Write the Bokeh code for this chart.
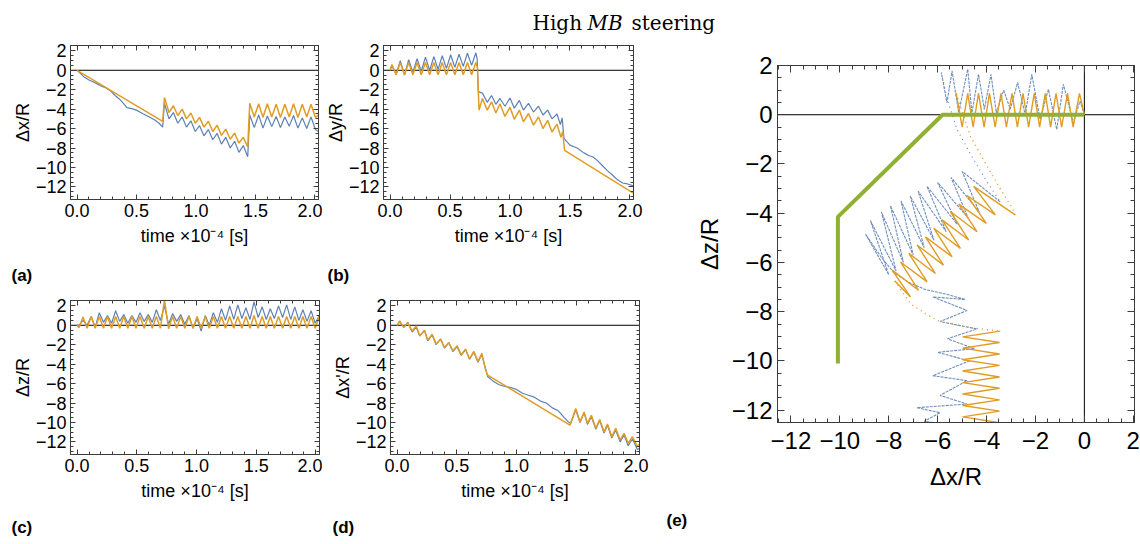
from bokeh.plotting import figure
from bokeh.layouts import column, row
from bokeh.models import (Range1d, LinearAxis, Span, SingleIntervalTicker,
                          CustomJSTickFormatter)
from bokeh.embed import file_html
from bokeh.resources import INLINE
from bokeh.core.properties import value

# ------------------------------------------------------------------ data
# Panel (a): dx/R versus time (x1e-4 s)
a_t_orange = [0.0, 0.72, 0.735, 0.773, 0.81, 0.847, 0.884, 0.92, 0.957, 0.994,
              1.03, 1.067, 1.104, 1.141, 1.178, 1.214, 1.25, 1.288, 1.325, 1.361,
              1.398, 1.435, 1.452, 1.49, 1.527, 1.563, 1.60, 1.637, 1.674, 1.71,
              1.747, 1.784, 1.82, 1.857, 1.894, 1.931, 1.967, 2.004, 2.03]
a_dx_orange = [0.0, -5.25, -2.8, -4.35, -3.65, -4.65, -4.0, -5.0, -4.4, -5.45,
               -4.85, -5.85, -5.25, -6.3, -5.65, -6.7, -6.05, -7.1, -6.45, -7.5,
               -6.9, -7.9, -3.4, -4.8, -3.45, -4.85, -3.45, -4.8, -3.5, -4.85,
               -3.5, -4.8, -3.45, -4.85, -3.5, -4.8, -3.5, -4.85, -4.6]
a_t_blue = [0.0, 0.03, 0.06, 0.1, 0.13, 0.17, 0.2, 0.24, 0.28, 0.32,
            0.36, 0.39, 0.42, 0.46, 0.5, 0.55, 0.6, 0.65, 0.69, 0.72,
            0.735, 0.773, 0.81, 0.847, 0.884, 0.92, 0.957, 0.994, 1.03, 1.067,
            1.104, 1.141, 1.178, 1.214, 1.25, 1.288, 1.325, 1.361, 1.398, 1.435,
            1.452, 1.49, 1.527, 1.563, 1.60, 1.637, 1.674, 1.71, 1.747, 1.784,
            1.82, 1.857, 1.894, 1.931, 1.967, 2.004, 2.03]
a_dx_blue = [0.0, -0.35, -0.7, -1.0, -1.15, -1.4, -1.6, -1.8, -2.1, -2.6,
             -3.0, -3.4, -3.85, -3.95, -4.1, -4.45, -4.75, -5.1, -5.45, -5.85,
             -3.4, -5.0, -4.35, -5.45, -4.8, -5.85, -5.2, -6.3, -5.7, -6.75,
             -6.1, -7.15, -6.5, -7.6, -6.9, -8.0, -7.3, -8.45, -7.75, -8.9,
             -4.6, -5.9, -4.6, -5.95, -4.7, -5.8, -4.75, -5.9, -4.8, -5.75,
             -4.65, -5.95, -4.9, -6.0, -4.8, -6.1, -6.3]

# Panel (b): dy/R versus time
b_t_orange = [0.0, 0.015, 0.05, 0.085, 0.12, 0.155, 0.19, 0.225, 0.26, 0.295,
              0.33, 0.365, 0.40, 0.435, 0.47, 0.505, 0.54, 0.575, 0.61, 0.645,
              0.68, 0.715, 0.728, 0.742, 0.77, 0.81, 0.846, 0.882, 0.916, 0.958,
              1.0, 1.036, 1.078, 1.112, 1.154, 1.196, 1.238, 1.275, 1.314, 1.35,
              1.392, 1.425, 1.44, 1.455, 2.035]
b_dy_orange = [0.0, 0.6, -0.45, 0.8, -0.45, 0.8, -0.45, 0.8, -0.45, 0.8,
               -0.45, 0.8, -0.45, 0.8, -0.45, 0.8, -0.45, 0.8, -0.45, 0.8,
               -0.45, 0.8, 0.3, -4.1, -2.9, -4.1, -3.25, -4.4, -3.45, -4.75,
               -3.8, -5.05, -4.1, -5.3, -4.45, -5.65, -4.8, -6.0, -5.15, -6.35,
               -5.55, -6.9, -6.3, -8.25, -12.7]
b_t_blue = [0.0, 0.015, 0.05, 0.085, 0.12, 0.155, 0.19, 0.225, 0.26, 0.295,
            0.33, 0.365, 0.40, 0.435, 0.47, 0.505, 0.54, 0.575, 0.61, 0.645,
            0.68, 0.715, 0.726, 0.736, 0.77, 0.81, 0.846, 0.882, 0.916, 0.958,
            1.0, 1.036, 1.078, 1.112, 1.154, 1.196, 1.238, 1.275, 1.314, 1.35,
            1.392, 1.42, 1.435, 1.45, 1.5, 1.56, 1.616, 1.66, 1.69, 1.73,
            1.77, 1.81, 1.856, 1.9, 1.94, 1.98, 2.03]
b_dy_blue = [0.0, 0.5, -0.4, 1.0, -0.5, 1.1, -0.2, 1.2, -0.1, 1.35,
             0.0, 1.4, 0.1, 1.5, 0.2, 1.6, 0.3, 1.65, 0.4, 1.75,
             0.5, 1.8, 1.2, -2.2, -2.35, -3.3, -2.6, -3.5, -2.9, -3.7,
             -2.85, -3.9, -3.1, -4.1, -3.4, -4.3, -3.7, -4.6, -4.1, -5.0,
             -4.5, -5.6, -4.9, -7.0, -7.7, -8.0, -8.5, -8.8, -8.9, -9.3,
             -9.8, -10.3, -10.8, -11.3, -11.6, -11.7, -11.9]

# Panel (c): dz/R versus time
c_t = [0.0, 0.016, 0.05, 0.084, 0.118, 0.152, 0.186, 0.221, 0.255, 0.289,
       0.323, 0.357, 0.391, 0.425, 0.459, 0.493, 0.527, 0.562, 0.596, 0.63,
       0.664, 0.698, 0.732, 0.766, 0.80, 0.834, 0.868, 0.902, 0.937, 0.971,
       1.005, 1.039, 1.073, 1.107, 1.141, 1.175, 1.209, 1.243, 1.278, 1.312,
       1.346, 1.38, 1.414, 1.448, 1.482, 1.516, 1.55, 1.584, 1.618, 1.652,
       1.687, 1.721, 1.755, 1.789, 1.823, 1.857, 1.891, 1.925, 1.96, 1.994,
       2.028]
c_dz_orange = [0.0, -0.25, 0.85, -0.3, 0.9, -0.3, 0.9, -0.3, 0.9, -0.3,
               0.9, -0.3, 0.9, -0.3, 0.9, -0.3, 0.9, -0.3, 0.9, -0.3,
               0.9, -0.3, 2.6, -0.35, 0.9, -0.3, 0.9, -0.3, 0.9, -0.3,
               0.9, -0.3, 0.9, -0.3, 0.9, -0.3, 0.9, -0.3, 0.9, -0.3,
               0.9, -0.3, 0.9, -0.3, 1.0, -0.3, 0.9, -0.3, 0.9, -0.3,
               0.9, -0.3, 0.9, -0.3, 0.9, -0.3, 0.9, -0.3, 0.9, -0.3,
               0.9]
c_dz_blue = [0.0, 0.0, 0.5, 0.0, 0.9, -0.2, 1.3, 0.3, 1.0, 0.2,
             1.5, 0.4, 1.1, 0.2, 1.0, 0.3, 1.3, 0.4, 1.1, 0.3,
             1.6, 0.5, 2.0, 0.1, 1.2, 0.4, 1.1, 0.1, 1.0, -0.3,
             0.7, -0.6, 1.0, 0.0, 1.3, 0.3, 1.7, 0.5, 2.0, 0.6,
             2.1, 0.7, 1.8, 0.6, 2.4, 0.8, 1.9, 0.6, 1.7, 0.7,
             2.0, 0.8, 2.1, 0.6, 1.9, 0.5, 1.6, 0.4, 1.5, 0.2,
             1.0]

# Panel (d): dx'/R versus time
d_t_orange = [0.0, 0.022, 0.056, 0.089, 0.126, 0.16, 0.19, 0.23, 0.257, 0.294,
              0.327, 0.364, 0.397, 0.433, 0.467, 0.503, 0.537, 0.573, 0.607, 0.643,
              0.677, 0.71, 0.735, 0.755, 1.448, 1.496, 1.532, 1.566, 1.594, 1.627,
              1.664, 1.697, 1.733, 1.762, 1.798, 1.831, 1.868, 1.901, 1.935, 1.971,
              2.013, 2.035]
d_dxp_orange = [0.0, 0.44, -0.24, 0.27, -0.58, -0.07, -1.09, -0.51, -1.53, -0.92,
                -1.94, -1.43, -2.28, -1.77, -2.62, -2.11, -3.03, -2.45, -3.47, -2.69,
                -3.71, -2.9, -4.3, -5.1, -10.28, -8.57, -9.94, -8.92, -10.1, -9.26,
                -10.6, -9.7, -10.96, -10.17, -11.47, -10.61, -11.8, -11.12, -12.14, -11.47,
                -12.49, -12.2]
d_t_blue = [0.0, 0.022, 0.056, 0.089, 0.126, 0.16, 0.19, 0.23, 0.257, 0.294,
            0.327, 0.364, 0.397, 0.433, 0.467, 0.503, 0.537, 0.573, 0.607, 0.643,
            0.677, 0.71, 0.735, 0.76, 0.8, 0.85, 0.9, 0.95, 1.0, 1.05,
            1.1, 1.15, 1.2, 1.25, 1.3, 1.35, 1.4, 1.43, 1.455, 1.496,
            1.532, 1.566, 1.594, 1.627, 1.664, 1.697, 1.733, 1.762, 1.798, 1.831,
            1.868, 1.901, 1.935, 1.971, 2.013, 2.035]
d_dxp_blue = [0.0, 0.35, -0.2, 0.3, -0.7, -0.2, -1.1, -0.55, -1.6, -1.0,
              -2.0, -1.4, -2.35, -1.8, -2.7, -2.2, -3.1, -2.5, -3.5, -2.75,
              -3.8, -3.0, -4.2, -5.3, -5.7, -6.1, -6.3, -6.4, -6.6, -7.0,
              -7.2, -7.4, -7.8, -8.0, -8.5, -8.8, -9.5, -9.9, -10.1, -8.7,
              -10.0, -9.0, -10.2, -9.4, -10.7, -9.8, -11.1, -10.3, -11.6, -10.8,
              -12.0, -11.3, -12.4, -11.7, -12.8, -12.6]

# Panel (e): trajectory dz/R versus dx/R
e_x_orange_1 = [0.0, -0.2, -0.46, -0.69, -0.93, -1.16, -1.38, -1.6, -1.83, -2.05,
                -2.28, -2.51, -2.74, -2.96, -3.19, -3.41, -3.65, -3.88, -4.1, -4.33,
                -4.55, -4.77, -5.0, -5.24]
e_z_orange_1 = [0.0, 0.87, -0.5, 0.87, -0.5, 0.87, -0.5, 0.87, -0.5, 0.87,
                -0.5, 0.87, -0.5, 0.87, -0.5, 0.87, -0.5, 0.87, -0.5, 0.87,
                -0.5, 0.87, -0.5, 0.87]
e_x_orange_jump1 = [-5.24, -4.67, -3.99, -3.44, -2.9, -2.83]
e_z_orange_jump1 = [0.87, -0.86, -2.07, -3.0, -3.88, -4.07]
e_x_orange_2 = [-2.83, -4.53, -3.64, -4.80, -4.01, -5.14, -4.39, -5.48, -4.73, -5.82,
                -5.07, -6.16, -5.41, -6.50, -5.76, -6.84, -6.09, -7.18, -6.43, -7.52,
                -6.78, -7.86, -7.11, -7.75]
e_z_orange_2 = [-4.07, -2.91, -4.07, -3.28, -4.41, -3.63, -4.75, -3.93, -5.09, -4.27,
                -5.43, -4.61, -5.77, -4.96, -6.11, -5.29, -6.45, -5.63, -6.79, -5.98,
                -7.13, -6.31, -7.40, -6.75]
e_x_orange_jump2 = [-7.75, -7.12, -6.5, -5.89, -4.8, -3.44]
e_z_orange_jump2 = [-6.75, -7.67, -8.08, -8.42, -8.63, -8.79]
e_x_orange_3 = [-3.44, -4.98, -3.47, -4.98, -3.47, -4.98, -3.47, -4.98, -3.47, -4.98,
                -3.47, -4.98, -3.47, -4.98, -3.47, -4.98, -3.47, -4.98, -3.47]
e_z_orange_3 = [-8.79, -9.02, -9.25, -9.48, -9.72, -9.95, -10.18, -10.41, -10.65, -10.88,
                -11.11, -11.34, -11.58, -11.81, -12.04, -12.27, -12.51, -12.74, -12.97]

e_x_blue_1 = [0.0, -0.18, -0.45, -0.86, -1.13, -1.47, -1.81, -2.15, -2.42, -2.73,
              -3.03, -3.3, -3.6, -3.82, -4.09, -4.33, -4.6, -4.77, -5.14, -5.41,
              -5.62, -5.85]
e_z_blue_1 = [0.0, 0.56, -0.33, 1.24, -0.6, 1.03, -0.19, 1.64, 0.01, 1.31,
              0.22, 1.0, 0.08, 1.64, 0.22, 1.64, 0.08, 1.85, 0.08, 1.78,
              0.49, 1.71]
e_x_blue_jump1 = [-5.85, -5.6, -5.21, -4.6, -4.0, -3.44]
e_z_blue_jump1 = [1.71, 0.6, -0.59, -1.7, -2.7, -3.54]
e_x_blue_2 = [-3.44, -5.0, -4.3, -5.45, -4.75, -6.0, -5.2, -6.44, -5.65, -6.8,
              -6.15, -7.12, -6.55, -7.5, -7.0, -7.93, -7.4, -8.3, -7.7, -8.75,
              -8.0, -8.95, -8.3, -7.8, -7.2, -6.5, -5.6, -4.9]
e_z_blue_2 = [-3.54, -2.3, -3.95, -2.55, -4.2, -2.75, -4.45, -2.9, -4.75, -3.1,
              -5.1, -3.3, -5.4, -3.5, -5.7, -3.7, -6.0, -3.95, -6.35, -4.3,
              -6.5, -4.85, -5.8, -6.4, -6.8, -7.1, -7.3, -7.5]
e_x_blue_3 = [-4.9, -6.2, -4.8, -5.9, -4.4, -5.6, -4.5, -6.0, -4.7, -6.2,
              -4.8, -5.9, -4.8, -6.85, -5.9, -6.55, -5.35, -6.2]
e_z_blue_3 = [-7.5, -7.4, -7.95, -8.4, -8.7, -9.1, -9.5, -9.65, -10.0, -10.6,
              -10.8, -11.4, -11.75, -11.9, -12.1, -12.45, -12.6, -12.9]

e_x_green = [0.0, -5.8, -10.08, -10.08]
e_z_green = [0.0, 0.0, -4.15, -10.1]

# texts
time_label = "time \u00d710\u207b\u2074 [s]"
title_parts = ["High", "MB", "steering"]
title_styles = ["normal", "italic", "normal"]
tags_ab = ["(a)", "(b)"]
tags_cde = ["(c)", "(d)", "(e)"]

# ------------------------------------------------------------------ style
BLUE = "#5E81B5"
ORANGE = "#E19C24"
GREEN = "#8FB032"
FRAME = "#3c3c3c"
FONT = "Liberation Sans"


def num_fmt(dec):
    return CustomJSTickFormatter(
        code="return (tick < -1e-9 ? '\\u2212' : '') + Math.abs(tick).toFixed(%d);" % dec)


def blank_fmt():
    return CustomJSTickFormatter(code="return '';")


def make_axis(ticker, formatter, label, font_px, show, tick_in, minor_in,
              lab_standoff, axlab_standoff):
    ax = LinearAxis(ticker=ticker, formatter=formatter)
    ax.axis_line_color = FRAME
    ax.axis_line_width = 1
    ax.major_tick_line_color = FRAME
    ax.minor_tick_line_color = FRAME
    ax.major_tick_in = tick_in
    ax.major_tick_out = 0
    ax.minor_tick_in = minor_in
    ax.minor_tick_out = 0
    ax.major_label_text_font = FONT
    ax.major_label_text_color = "black"
    if show:
        ax.major_label_text_font_size = "%dpx" % font_px
        ax.major_label_standoff = lab_standoff
    else:
        ax.major_label_text_font_size = "0px"
        ax.major_label_standoff = 0
    if label:
        ax.axis_label = label
        ax.axis_label_text_font = FONT
        ax.axis_label_text_font_size = "%dpx" % font_px
        ax.axis_label_text_font_style = "normal"
        ax.axis_label_text_color = "black"
        ax.axis_label_standoff = axlab_standoff
    return ax


def make_panel(geo, xr, yr, xstep, xminor, xdec, ystep, yminor, font_px,
               xlabel, ylabel, tick_in, minor_in, xs, xas, ys, yas):
    ox, oy, w, h, L, R, T, B = geo
    p = figure(width=w, height=h, x_range=Range1d(*xr), y_range=Range1d(*yr),
               x_axis_type=None, y_axis_type=None, output_backend="svg",
               toolbar_location=None, tools="",
               min_border_left=L - ox, min_border_right=ox + w - R,
               min_border_top=T - oy, min_border_bottom=oy + h - B)
    p.outline_line_color = FRAME
    p.background_fill_color = "white"
    p.border_fill_color = "white"
    xt = SingleIntervalTicker(interval=xstep, num_minor_ticks=xminor)
    yt = SingleIntervalTicker(interval=ystep, num_minor_ticks=yminor)
    p.add_layout(make_axis(xt, num_fmt(xdec), xlabel, font_px, True, tick_in, minor_in, xs, xas), "below")
    p.add_layout(make_axis(yt, num_fmt(0), ylabel, font_px, True, tick_in, minor_in, ys, yas), "left")
    p.add_layout(make_axis(xt, blank_fmt(), None, font_px, False, tick_in, minor_in, 0, 0), "above")
    p.add_layout(make_axis(yt, blank_fmt(), None, font_px, False, tick_in, minor_in, 0, 0), "right")
    return p


def strip(w, h):
    # a text-only strip whose data units are pixels measured from its top-left
    s = figure(width=w, height=h, x_range=Range1d(0, w), y_range=Range1d(h, 0),
               x_axis_type=None, y_axis_type=None, output_backend="svg",
               toolbar_location=None, tools="", min_border=0)
    s.outline_line_color = None
    s.background_fill_color = "white"
    s.border_fill_color = "white"
    return s


def tags(s, xs, ys, texts):
    s.text(x=xs, y=ys, text=texts, text_font=value(FONT), text_font_size="17px",
           text_font_style="bold", text_color="black",
           text_baseline="middle", text_align="left")


def zero_h(p):
    p.add_layout(Span(location=0, dimension="width", line_color="black",
                      line_width=1, level="underlay"))


TS_X = (-0.055, 2.03)
TS_Y = (-13.3, 2.55)

# geometry: page origin x, y, width, height, frame left, right, top, bottom
geo_a = (0, 36, 322, 226, 70, 318, 45, 199)
geo_b = (322, 36, 333, 226, 383, 633, 45, 199)
geo_c = (0, 288, 322, 220, 70, 319, 300, 454)
geo_d = (322, 288, 333, 220, 390, 639, 300, 454)
geo_e = (655, 36, 485, 472, 777, 1134, 65, 422)


def ts_panel(geo, ylabel):
    return make_panel(geo, TS_X, TS_Y, 0.5, 5, 1, 2, 4, 18, time_label, ylabel,
                      5, 3, 4, 6, 4, 0)


pa = ts_panel(geo_a, "\u0394x/R")
zero_h(pa)
pa.line(a_t_blue, a_dx_blue, line_color=BLUE, line_width=1.2)
pa.line(a_t_orange, a_dx_orange, line_color=ORANGE, line_width=1.5)

pb = ts_panel(geo_b, "\u0394y/R")
zero_h(pb)
pb.line(b_t_blue, b_dy_blue, line_color=BLUE, line_width=1.2)
pb.line(b_t_orange, b_dy_orange, line_color=ORANGE, line_width=1.5)

pc = ts_panel(geo_c, "\u0394z/R")
zero_h(pc)
pc.line(c_t, c_dz_blue, line_color=BLUE, line_width=1.2)
pc.line(c_t, c_dz_orange, line_color=ORANGE, line_width=1.5)

pd_ = ts_panel(geo_d, "\u0394x'/R")
zero_h(pd_)
pd_.line(d_t_blue, d_dxp_blue, line_color=BLUE, line_width=1.2)
pd_.line(d_t_orange, d_dxp_orange, line_color=ORANGE, line_width=1.5)

E_X = (-12.55, 2.05)
E_Y = (-12.5, 2.0)
pe = make_panel(geo_e, E_X, E_Y, 2, 4, 0, 2, 4, 24, "\u0394x/R", "\u0394z/R",
                7, 4, 9, 11, 5, 6)
zero_h(pe)
pe.add_layout(Span(location=0, dimension="height", line_color="black",
                   line_width=1, level="underlay"))
for xs_, zs_ in ((e_x_blue_1, e_z_blue_1), (e_x_blue_2, e_z_blue_2), (e_x_blue_3, e_z_blue_3)):
    pe.line(xs_, zs_, line_color=BLUE, line_width=1.1, line_alpha=0.9, line_dash="3 1")
pe.line(e_x_blue_jump1, e_z_blue_jump1, line_color=BLUE, line_width=1.1, line_dash="1 4")
for xs_, zs_ in ((e_x_orange_1, e_z_orange_1), (e_x_orange_2, e_z_orange_2), (e_x_orange_3, e_z_orange_3)):
    pe.line(xs_, zs_, line_color=ORANGE, line_width=1.4)
pe.line(e_x_orange_jump1, e_z_orange_jump1, line_color=ORANGE, line_width=1.4, line_dash="1 4")
pe.line(e_x_orange_jump2, e_z_orange_jump2, line_color=ORANGE, line_width=1.4, line_dash="1 4")
pe.line(e_x_green, e_z_green, line_color=GREEN, line_width=4)

# text strips: title, panel tags
pt = strip(1140, 36)
pt.text(x=[532, 587, 631], y=[22, 22, 22], text=title_parts,
        text_font=value("DejaVu Serif"), text_font_size="20px",
        text_font_style=title_styles, text_color="black",
        text_baseline="middle", text_align="left")

s_ab = strip(655, 26)
tags(s_ab, [11, 327], [13, 13], tags_ab)
s_bottom = strip(1140, 36)
tags(s_bottom, [11, 332, 666], [19, 19, 12], tags_cde)

left = column(row(pa, pb), s_ab, row(pc, pd_))
layout = column(pt, row(left, pe), s_bottom)

with open("out.html", "w") as f:
    f.write(file_html(layout, INLINE))
